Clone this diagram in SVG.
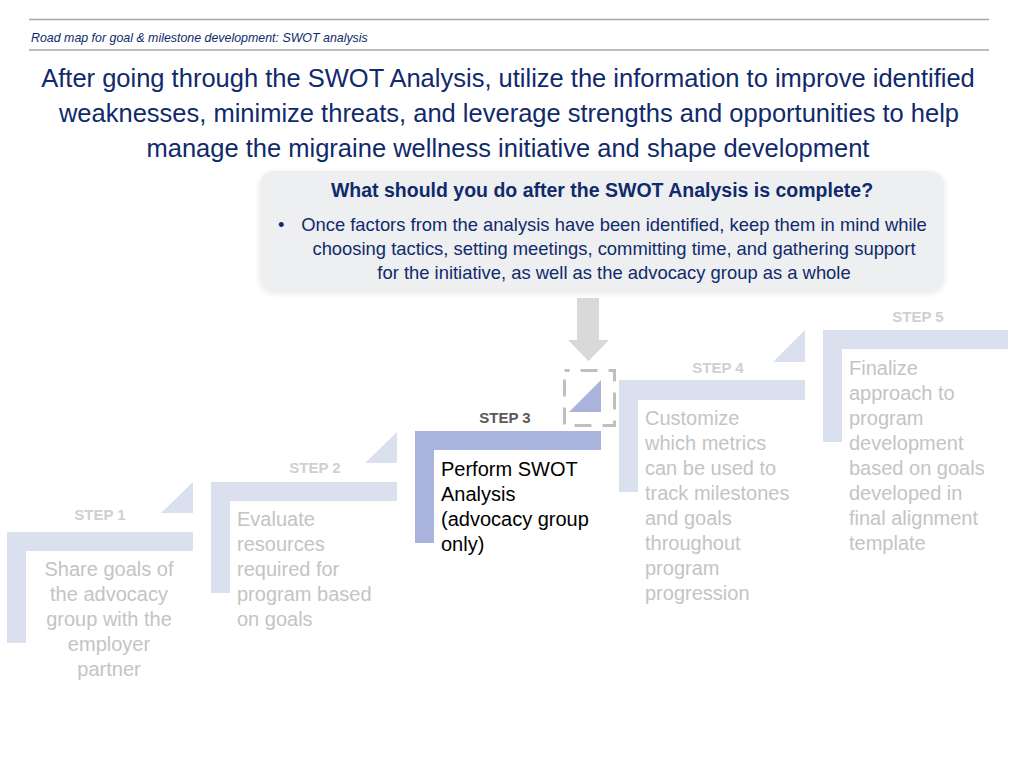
<svg xmlns="http://www.w3.org/2000/svg" width="1024" height="768" viewBox="0 0 1024 768">
<defs>
<style>
.hdr{font-family:"Liberation Sans",Arial,sans-serif;font-style:italic;font-size:12.4px;fill:#102a6b}
.ttl{font-family:"Liberation Sans",Arial,sans-serif;font-size:25.5px;fill:#102a6b;text-anchor:middle}
.cq{font-family:"Liberation Sans",Arial,sans-serif;font-weight:bold;font-size:19.5px;fill:#102a6b;text-anchor:middle}
.cb{font-family:"Liberation Sans",Arial,sans-serif;font-size:18.4px;fill:#102a6b}
.lbl{font-family:"Liberation Sans",Arial,sans-serif;font-weight:bold;font-size:15px;fill:#d0d0d0;text-anchor:middle}
.lbl3{fill:#595959}
.body{font-family:"Liberation Sans",Arial,sans-serif;font-size:20px;fill:#c4c4c4}
.body3{fill:#000000}
.bar{fill:#dbe0ef}
.bar3{fill:#a9b3dc}
.rule{stroke:#a6a6a6;stroke-width:1.5}
</style>
<filter id="sh" x="-5%" y="-10%" width="110%" height="130%">
<feDropShadow dx="0" dy="2" stdDeviation="3" flood-color="#000" flood-opacity="0.1"/>
</filter>
</defs>
<rect width="1024" height="768" fill="#ffffff"/>

<g id="header">
<line class="rule" x1="29" y1="19.5" x2="989" y2="19.5"/>
<line class="rule" x1="29" y1="50" x2="989" y2="50"/>
<text class="hdr" x="31" y="42">Road map for goal &amp; milestone development: SWOT analysis</text>
</g>

<g id="title">
<text class="ttl" x="508" y="87">After going through the SWOT Analysis, utilize the information to improve identified</text>
<text class="ttl" x="509" y="122">weaknesses, minimize threats, and leverage strengths and opportunities to help</text>
<text class="ttl" x="508" y="157">manage the migraine wellness initiative and shape development</text>
</g>

<g id="callout">
<rect x="260" y="171" width="684" height="120" rx="14" fill="#eeeff1" filter="url(#sh)"/>
<text class="cq" x="602" y="197">What should you do after the SWOT Analysis is complete?</text>
<text class="cb" x="278" y="231">•</text>
<text class="cb" x="614" y="231" text-anchor="middle">Once factors from the analysis have been identified, keep them in mind while</text>
<text class="cb" x="614" y="255" text-anchor="middle">choosing tactics, setting meetings, committing time, and gathering support</text>
<text class="cb" x="614" y="279" text-anchor="middle">for the initiative, as well as the advocacy group as a whole</text>
</g>

<g id="connectors">
<polygon points="577,298 599,298 599,340 609,340 588.5,361 568,340 577,340" fill="#d9d9d9"/>
</g>

<g id="step1">
<path class="bar" d="M7,532 H193 V551 H26 V643 H7 Z"/>
<path class="bar" d="M161,513 L193,482 V513 Z"/>
<text class="lbl" x="100" y="520">STEP 1</text>
<text class="body" text-anchor="middle" x="109" y="576">Share goals of</text>
<text class="body" text-anchor="middle" x="109" y="601">the advocacy</text>
<text class="body" text-anchor="middle" x="109" y="626">group with the</text>
<text class="body" text-anchor="middle" x="109" y="651">employer</text>
<text class="body" text-anchor="middle" x="109" y="676">partner</text>
</g>

<g id="step2">
<path class="bar" d="M211,482 H397 V501 H230 V593 H211 Z"/>
<path class="bar" d="M365,463 L397,432 V463 Z"/>
<text class="lbl" x="315" y="473">STEP 2</text>
<text class="body" x="237" y="526">Evaluate</text>
<text class="body" x="237" y="551">resources</text>
<text class="body" x="237" y="576">required for</text>
<text class="body" x="237" y="601">program based</text>
<text class="body" x="237" y="626">on goals</text>
</g>

<g id="step3">
<path class="bar3" d="M415,431 H601 V450 H434 V543 H415 Z"/>
<text class="lbl lbl3" x="505" y="423">STEP 3</text>
<text class="body body3" x="441" y="476">Perform SWOT</text>
<text class="body body3" x="441" y="501">Analysis</text>
<text class="body body3" x="441" y="526">(advocacy group</text>
<text class="body body3" x="441" y="551">only)</text>
</g>

<g id="focus">
<path class="bar3" d="M569,412 L601,380 V412 Z"/>
<rect x="564.5" y="370.5" width="50" height="55" fill="none" stroke="#bfbfbf" stroke-width="3" stroke-dasharray="17 11" stroke-dashoffset="12"/>
</g>

<g id="step4">
<path class="bar" d="M619,380 H805 V400 H638 V492 H619 Z"/>
<path class="bar" d="M773,362 L805,330 V362 Z"/>
<text class="lbl" x="718" y="373">STEP 4</text>
<text class="body" x="645" y="425">Customize</text>
<text class="body" x="645" y="450">which metrics</text>
<text class="body" x="645" y="475">can be used to</text>
<text class="body" x="645" y="500">track milestones</text>
<text class="body" x="645" y="525">and goals</text>
<text class="body" x="645" y="550">throughout</text>
<text class="body" x="645" y="575">program</text>
<text class="body" x="645" y="600">progression</text>
</g>

<g id="step5">
<path class="bar" d="M823,330 H1008 V349 H842 V442 H823 Z"/>
<text class="lbl" x="918" y="322">STEP 5</text>
<text class="body" x="849" y="375">Finalize</text>
<text class="body" x="849" y="400">approach to</text>
<text class="body" x="849" y="425">program</text>
<text class="body" x="849" y="450">development</text>
<text class="body" x="849" y="475">based on goals</text>
<text class="body" x="849" y="500">developed in</text>
<text class="body" x="849" y="525">final alignment</text>
<text class="body" x="849" y="550">template</text>
</g>
</svg>
